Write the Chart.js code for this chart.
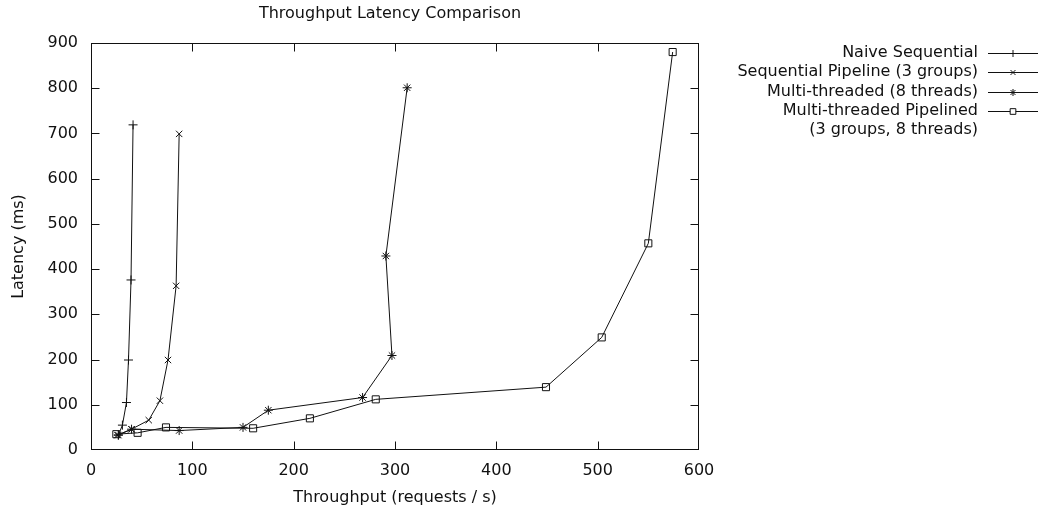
<!DOCTYPE html>
<html lang="en">
<head>
    <meta charset="UTF-8">
    <title>Throughput Latency Comparison</title>
    <script src="https://cdn.jsdelivr.net/npm/chart.js"></script>
    <style>
        body { margin: 0; padding: 0; background: #fff; }
        #wrap { width: 1039px; height: 514px; }
    </style>
</head>
<body>
    <div id="wrap"><canvas id="latencyChart" width="1039" height="514"></canvas></div>

    <script>
        // values (x = requests/s, y = latency ms)
        const naiveX = [27, 31, 35, 37, 39.5, 41.5];
        const naiveY = [33, 55, 105, 199, 376, 719];

        const seqPipeX = [26, 40, 57, 68, 76, 84, 87];
        const seqPipeY = [33, 46, 66, 109, 199, 363, 699];

        const multiX = [27, 40, 87, 150, 175, 268, 297, 291, 312];
        const multiY = [33, 46, 43, 50, 88, 116, 209, 429, 801];

        const multiPipeX = [25, 46, 74, 160, 216, 281, 449, 504, 550, 574];
        const multiPipeY = [35, 38, 50, 48, 70, 112, 139, 249, 457, 880];

        const xTicks = [0, 100, 200, 300, 400, 500, 600];
        const yTicks = [0, 100, 200, 300, 400, 500, 600, 700, 800, 900];

        const seriesNames = [
            ['Naive Sequential'],
            ['Sequential Pipeline (3 groups)'],
            ['Multi-threaded (8 threads)'],
            ['Multi-threaded Pipelined', '(3 groups, 8 threads)']
        ];

        const FONT = "'DejaVu Sans', sans-serif";
        const FSIZE = 16;

        function pts(xs, ys) {
            return xs.map((x, i) => ({ x: x, y: ys[i] }));
        }

        function makeSet(i, xs, ys, style, radius) {
            return {
                label: seriesNames[i].join(' '),
                data: pts(xs, ys),
                showLine: true,
                borderColor: '#111',
                borderWidth: 1,
                backgroundColor: 'rgba(0,0,0,0)',
                pointStyle: style,
                pointRadius: radius,
                pointBorderColor: '#111',
                pointBorderWidth: 1,
                pointBackgroundColor: 'rgba(0,0,0,0)',
                tension: 0
            };
        }

        // gnuplot-like frame: border on all sides, ticks pointing inward, title and key
        const gnuFrame = {
            id: 'gnuFrame',
            afterDraw(chart) {
                const ctx = chart.ctx;
                const a = chart.chartArea;
                const xs = chart.scales.x, ys = chart.scales.y;
                const L = a.left + 0.5, R = a.right - 0.5, T = a.top + 0.5, B = a.bottom - 0.5;
                ctx.save();
                ctx.strokeStyle = '#111';
                ctx.lineWidth = 1;
                ctx.strokeRect(L, T, R - L, B - T);
                ctx.beginPath();
                xTicks.forEach(v => {
                    const px = Math.min(R, Math.max(L, Math.round(xs.getPixelForValue(v)) + 0.5));
                    ctx.moveTo(px, B); ctx.lineTo(px, B - 8);
                    ctx.moveTo(px, T); ctx.lineTo(px, T + 8);
                });
                yTicks.forEach(v => {
                    const py = Math.min(B, Math.max(T, Math.round(ys.getPixelForValue(v)) + 0.5));
                    ctx.moveTo(L, py); ctx.lineTo(L + 8, py);
                    ctx.moveTo(R, py); ctx.lineTo(R - 8, py);
                });
                ctx.stroke();

                // title
                ctx.fillStyle = '#111';
                ctx.font = FSIZE + 'px ' + FONT;
                ctx.textAlign = 'center';
                ctx.textBaseline = 'middle';
                ctx.fillText('Throughput Latency Comparison', 390, 14);

                // key
                const textRight = 978, lineL = 988, lineR = 1038;
                let y = 53;
                chart.data.datasets.forEach((ds, i) => {
                    ctx.fillStyle = '#111';
                    ctx.textAlign = 'right';
                    ctx.fillText(seriesNames[i][0], textRight, y);
                    ctx.beginPath();
                    ctx.moveTo(lineL, Math.round(y) + 0.5);
                    ctx.lineTo(lineR, Math.round(y) + 0.5);
                    ctx.stroke();
                    ctx.fillStyle = '#fff';
                    Chart.helpers.drawPoint(ctx, {
                        pointStyle: ds.pointStyle, radius: ds.pointStyle === 'rect' ? 4 : 3.5,
                        rotation: 0, borderWidth: 1
                    }, (lineL + lineR) / 2, Math.round(y) + 0.5);
                    ctx.fillStyle = '#111';
                    for (let k = 1; k < seriesNames[i].length; k++) {
                        y += 19.3;
                        ctx.fillText(seriesNames[i][k], textRight, y);
                    }
                    y += 19.3;
                });
                ctx.restore();
            }
        };

        const ctx = document.getElementById('latencyChart').getContext('2d');
        const latencyChart = new Chart(ctx, {
            type: 'scatter',
            data: {
                datasets: [
                    makeSet(0, naiveX, naiveY, 'cross', 4.5),
                    makeSet(1, seqPipeX, seqPipeY, 'crossRot', 4.5),
                    makeSet(2, multiX, multiY, 'star', 4.5),
                    makeSet(3, multiPipeX, multiPipeY, 'rect', 5)
                ]
            },
            options: {
                responsive: false,
                animation: false,
                layout: { padding: { top: 43, right: 340, bottom: 0, left: 0 } },
                plugins: {
                    legend: { display: false },
                    title: { display: false },
                    tooltip: { enabled: false }
                },
                scales: {
                    x: {
                        type: 'linear',
                        min: 0,
                        max: 600,
                        afterBuildTicks: s => { s.ticks = xTicks.map(v => ({ value: v })); },
                        afterFit: s => { s.height = 64; },
                        grid: { drawOnChartArea: false, drawTicks: false },
                        border: { display: false },
                        ticks: { color: '#111', padding: 11, font: { family: FONT, size: FSIZE } },
                        title: {
                            display: true,
                            text: 'Throughput (requests / s)',
                            color: '#111',
                            padding: { top: 0, bottom: 7 },
                            font: { family: FONT, size: FSIZE }
                        }
                    },
                    y: {
                        type: 'linear',
                        min: 0,
                        max: 900,
                        afterBuildTicks: s => { s.ticks = yTicks.map(v => ({ value: v })); },
                        afterFit: s => { s.width = 91; },
                        grid: { drawOnChartArea: false, drawTicks: false },
                        border: { display: false },
                        ticks: { color: '#111', padding: 13, font: { family: FONT, size: FSIZE } },
                        title: {
                            display: true,
                            text: 'Latency (ms)',
                            color: '#111',
                            padding: { top: 9, bottom: 0 },
                            font: { family: FONT, size: FSIZE }
                        }
                    }
                }
            },
            plugins: [gnuFrame]
        });
    </script>
</body>
</html>
